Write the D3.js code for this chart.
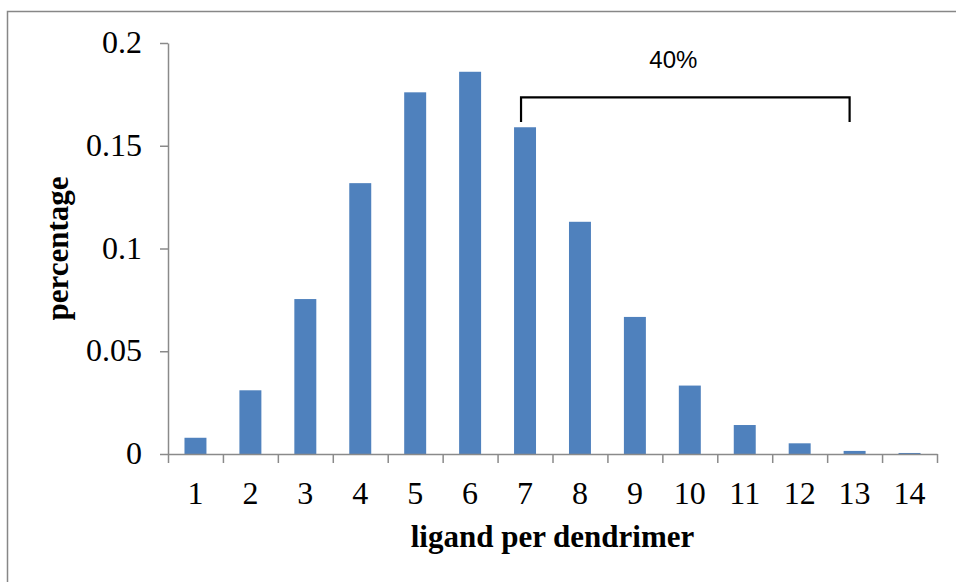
<!DOCTYPE html>
<html>
<head>
<meta charset="utf-8">
<script src="https://cdn.jsdelivr.net/npm/d3@7"></script>
<style>
  body { margin: 0; background: #fff; }
  svg { display: block; }
</style>
</head>
<body>
<svg id="chart" width="956" height="582"></svg>
<script>
// values
let categories = ["1", "2", "3", "4", "5", "6", "7", "8", "9", "10", "11", "12", "13", "14"];
let fractions = [0.0079, 0.031, 0.0754, 0.1318, 0.176, 0.186, 0.159, 0.113, 0.0667, 0.0333, 0.0141, 0.0052, 0.0015, 0.0005];
let yTicks = [0, 0.05, 0.1, 0.15, 0.2];
let yTickLabels = ["0", "0.05", "0.1", "0.15", "0.2"];

// bracket annotation, "40%" of ligands from 7 up to 13
let bracketFrom = "7";
let bracketTo = "13";
let bracketTop = 0.1735;
let bracketFoot = 0.1615;
let bracketLabel = "40%";
let bracketLabelAt = 0.188;

let margin = {top: 43, right: 19, bottom: 128, left: 168};
let width = 956, height = 582;

let svg = d3.select("#chart");

// outer frame, only the top and left edges are in view
svg.append("rect")
    .attr("x", 7.5).attr("y", 11.5)
    .attr("width", 1200).attr("height", 1200)
    .attr("fill", "none")
    .attr("stroke", "#878787")
    .attr("stroke-width", 1.5);

let x = d3.scaleBand()
    .domain(categories)
    .range([margin.left, width - margin.right])
    .paddingInner(0.6)
    .paddingOuter(0.3);

let y = d3.scaleLinear()
    .domain([0, 0.2])
    .range([height - margin.bottom, margin.top]);

let serif = "'Liberation Serif', 'Times New Roman', serif";
let axisColor = "#8a8a8a";

// bars
svg.append("g").selectAll("rect")
    .data(fractions)
    .enter().append("rect")
    .attr("x", (d, i) => x(categories[i]))
    .attr("width", x.bandwidth())
    .attr("y", d => y(d))
    .attr("height", d => y(0) - y(d))
    .attr("fill", "#4f81bd");

// y axis
let yAxis = svg.append("g")
    .attr("transform", `translate(${margin.left},0)`)
    .call(d3.axisLeft(y)
        .tickValues(yTicks)
        .tickFormat((d, i) => yTickLabels[i])
        .tickSizeInner(8)
        .tickSizeOuter(0)
        .tickPadding(18));
yAxis.selectAll("line, path").attr("stroke", axisColor).attr("stroke-width", 1.5);
yAxis.selectAll("text")
    .attr("font-family", serif)
    .attr("font-size", 32)
    .attr("fill", "#000")
    .attr("dy", "0.3em");

// x axis: ticks sit on category boundaries, labels in the middle
let boundary = d3.scaleLinear()
    .domain([0, categories.length])
    .range(x.range());

let xTicks = svg.append("g")
    .attr("transform", `translate(0,${y(0)})`)
    .call(d3.axisBottom(boundary)
        .tickValues(d3.range(categories.length + 1))
        .tickFormat("")
        .tickSizeInner(9)
        .tickSizeOuter(0));
xTicks.selectAll("line, path").attr("stroke", axisColor).attr("stroke-width", 1.5);

let xLabels = svg.append("g")
    .attr("transform", `translate(0,${y(0)})`)
    .call(d3.axisBottom(x).tickSize(0).tickPadding(27));
xLabels.select(".domain").remove();
xLabels.selectAll("text")
    .attr("font-family", serif)
    .attr("font-size", 32)
    .attr("fill", "#000");

// axis titles
svg.append("text")
    .attr("x", (margin.left + width - margin.right) / 2)
    .attr("y", 547)
    .attr("text-anchor", "middle")
    .attr("font-family", serif)
    .attr("font-weight", "bold")
    .attr("font-size", 31)
    .text("ligand per dendrimer");

svg.append("text")
    .attr("transform", `translate(68,${(y(0) + y(0.2)) / 2}) rotate(-90)`)
    .attr("text-anchor", "middle")
    .attr("font-family", serif)
    .attr("font-weight", "bold")
    .attr("font-size", 31)
    .text("percentage");

// bracket
let bx0 = x(bracketFrom) + x.bandwidth() / 2 - 4;
let bx1 = x(bracketTo) + x.bandwidth() / 2 - 5;
svg.append("path")
    .attr("d", d3.line()([
        [bx0, y(bracketFoot)],
        [bx0, y(bracketTop)],
        [bx1, y(bracketTop)],
        [bx1, y(bracketFoot)]
    ]))
    .attr("fill", "none")
    .attr("stroke", "#000")
    .attr("stroke-width", 2.2);

svg.append("text")
    .attr("x", (bx0 + bx1) / 2 - 12)
    .attr("y", y(bracketLabelAt))
    .attr("text-anchor", "middle")
    .attr("font-family", "'Liberation Sans', Arial, sans-serif")
    .attr("font-size", 24)
    .attr("fill", "#000")
    .text(bracketLabel);
</script>
</body>
</html>
